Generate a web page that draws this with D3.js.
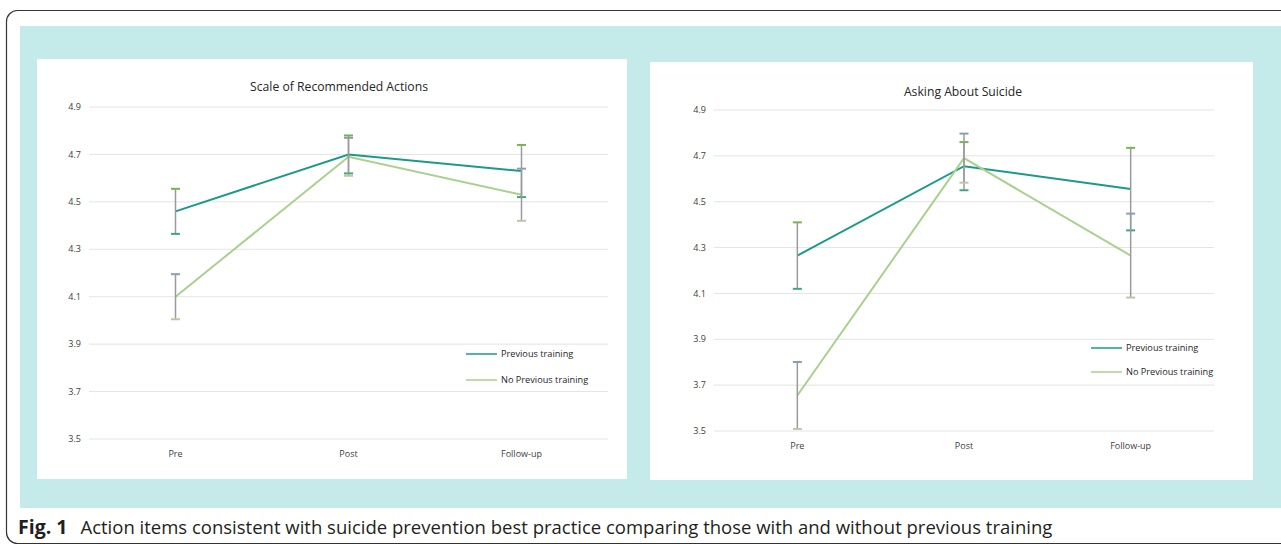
<!DOCTYPE html>
<html lang="en">
<head>
<meta charset="utf-8">
<script src="https://d3js.org/d3.v7.min.js"></script>
<style>
  body { margin: 0; background: #fff; }
  svg { display: block; }
  .chart-text { font-family: "Open Sans", sans-serif; fill: #404040; }
</style>
</head>
<body>
<svg id="fig" width="1281" height="546"></svg>
<script>
// data
var categories = ["Pre", "Post", "Follow-up"];
var yTicks = [3.5, 3.7, 3.9, 4.1, 4.3, 4.5, 4.7, 4.9];
var seriesNames = ["Previous training", "No Previous training"];

// Scale of Recommended Actions
var sraPrev = [4.46, 4.70, 4.63];
var sraPrevErr = [0.095, 0.08, 0.11];
var sraNoPrev = [4.10, 4.69, 4.53];
var sraNoPrevErr = [0.095, 0.08, 0.11];

// Asking About Suicide
var aasPrev = [4.265, 4.655, 4.555];
var aasPrevErr = [0.145, 0.105, 0.18];
var aasNoPrev = [3.655, 4.69, 4.265];
var aasNoPrevErr = [0.146, 0.107, 0.183];

var lineColors = ["#1b9a89", "#a9d18e"];
var capColors = [["#74b54e", "#3fa77c"], ["#8a9fb6", "#b9c9a3"]];

var svg = d3.select("#fig");

// outer frame + teal background
svg.append("rect").attr("x", 20).attr("y", 26).attr("width", 1270).attr("height", 482)
  .attr("fill", "#c5eaea");
svg.append("rect").attr("x", 6.5).attr("y", 10.5).attr("width", 1300).attr("height", 533)
  .attr("rx", 11).attr("fill", "none").attr("stroke", "#333").attr("stroke-width", 1.2);

function drawChart(cfg) {
  var g = svg.append("g");
  g.append("rect").attr("x", cfg.panel[0]).attr("y", cfg.panel[1])
    .attr("width", cfg.panel[2]).attr("height", cfg.panel[3]).attr("fill", "#fff");

  var x = d3.scaleBand().domain(categories).range([cfg.left, cfg.right]);
  var y = d3.scaleLinear().domain([3.5, 4.9]).range([cfg.bottom, cfg.top]);
  var cx = function (c) { return x(c) + x.bandwidth() / 2; };

  // grid
  g.selectAll(".grid").data(yTicks).enter().append("line")
    .attr("x1", cfg.left).attr("x2", cfg.right)
    .attr("y1", function (d) { return y(d); }).attr("y2", function (d) { return y(d); })
    .attr("stroke", "#e4e4e4").attr("stroke-width", 1);

  // y labels
  g.selectAll(".ylab").data(yTicks).enter().append("text")
    .attr("class", "chart-text")
    .attr("x", cfg.left - 8).attr("y", function (d) { return y(d); })
    .attr("dy", "0.35em").attr("text-anchor", "end")
    .style("font-size", "9px")
    .text(function (d) { return d.toFixed(1); });

  // x labels
  g.selectAll(".xlab").data(categories).enter().append("text")
    .attr("class", "chart-text")
    .attr("x", function (d) { return cx(d); }).attr("y", cfg.bottom + 18)
    .attr("text-anchor", "middle").style("font-size", "9px")
    .text(function (d) { return d; });

  // title
  g.append("text").attr("class", "chart-text")
    .attr("x", cfg.titleX).attr("y", cfg.titleY)
    .attr("text-anchor", "middle").style("font-size", "12.2px").style("fill", "#262626")
    .text(cfg.title);

  var line = d3.line()
    .x(function (d) { return cx(d.c); })
    .y(function (d) { return y(d.v); });

  cfg.series.forEach(function (s, i) {
    var pts = categories.map(function (c, k) { return { c: c, v: s.values[k], e: s.err[k] }; });
    g.append("path").datum(pts).attr("d", line)
      .attr("fill", "none").attr("stroke", lineColors[i]).attr("stroke-width", 2);
  });

  // error bars drawn after lines
  cfg.series.forEach(function (s, i) {
    var pts = categories.map(function (c, k) { return { c: c, v: s.values[k], e: s.err[k] }; });
    var eb = g.append("g");
    eb.selectAll(".ev").data(pts).enter().append("line")
      .attr("x1", function (d) { return cx(d.c); }).attr("x2", function (d) { return cx(d.c); })
      .attr("y1", function (d) { return y(d.v + d.e); }).attr("y2", function (d) { return y(d.v - d.e); })
      .attr("stroke", "#9b9b9b").attr("stroke-width", 1.5);
    [1, -1].forEach(function (sign, j) {
      eb.selectAll(".cap" + j).data(pts).enter().append("line")
        .attr("x1", function (d) { return cx(d.c) - 4.5; }).attr("x2", function (d) { return cx(d.c) + 4.5; })
        .attr("y1", function (d) { return y(d.v + sign * d.e); })
        .attr("y2", function (d) { return y(d.v + sign * d.e); })
        .attr("stroke", capColors[i][j]).attr("stroke-width", 2);
    });
  });

  // legend
  seriesNames.forEach(function (name, i) {
    var ly = cfg.legendY + i * cfg.legendGap;
    g.append("line").attr("x1", cfg.legendX).attr("x2", cfg.legendX + 31)
      .attr("y1", ly).attr("y2", ly).attr("stroke", lineColors[i]).attr("stroke-width", 1.5);
    g.append("text").attr("class", "chart-text")
      .attr("x", cfg.legendX + 35).attr("y", ly).attr("dy", "0.35em")
      .style("font-size", "9.2px").style("fill", "#262626").text(name);
  });
}

drawChart({
  panel: [37, 59, 590, 420],
  left: 89, right: 608, top: 107, bottom: 439,
  title: "Scale of Recommended Actions", titleX: 339, titleY: 91,
  legendX: 466, legendY: 354, legendGap: 26,
  series: [
    { values: sraPrev, err: sraPrevErr },
    { values: sraNoPrev, err: sraNoPrevErr }
  ]
});

drawChart({
  panel: [650, 62, 603, 418],
  left: 714, right: 1214, top: 110, bottom: 431,
  title: "Asking About Suicide", titleX: 963, titleY: 96,
  legendX: 1091, legendY: 348, legendGap: 24,
  series: [
    { values: aasPrev, err: aasPrevErr },
    { values: aasNoPrev, err: aasNoPrevErr }
  ]
});

// caption
var cap = svg.append("text").attr("x", 18).attr("y", 534)
  .style("font-family", "'Open Sans', sans-serif").style("font-size", "18.5px").style("fill", "#231f20");
cap.append("tspan").style("font-weight", "bold").style("font-size", "19.5px").text("Fig. 1");
cap.append("tspan").attr("dx", 13)
  .text("Action items consistent with suicide prevention best practice comparing those with and without previous training");
</script>
</body>
</html>
